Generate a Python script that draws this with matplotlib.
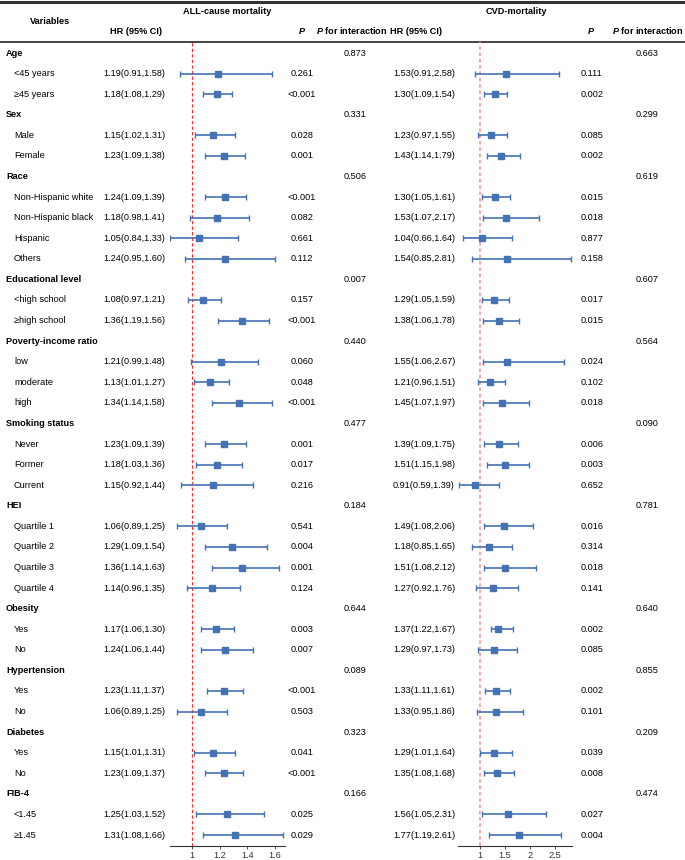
import matplotlib
matplotlib.use("Agg")
import matplotlib.pyplot as plt

plt.rcParams['font.family'] = ['Liberation Sans', 'DejaVu Sans']
plt.rcParams['mathtext.fontset'] = 'custom'
plt.rcParams['mathtext.bfit'] = 'Liberation Sans:bold:italic'
plt.rcParams['mathtext.it'] = 'Liberation Sans:italic'

# data
labels = ['Age', '<45 years', '≥45 years',
          'Sex', 'Male', 'Female',
          'Race', 'Non-Hispanic white', 'Non-Hispanic black', 'Hispanic', 'Others',
          'Educational level', '<high school', '≥high school',
          'Poverty-income ratio', 'low', 'moderate', 'high',
          'Smoking status', 'Never', 'Former', 'Current',
          'HEI', 'Quartile 1', 'Quartile 2', 'Quartile 3', 'Quartile 4',
          'Obesity', 'Yes', 'No',
          'Hypertension', 'Yes', 'No',
          'Diabetes', 'Yes', 'No',
          'FIB-4', '<1.45', '≥1.45']
is_group = [l in ('Age', 'Sex', 'Race', 'Educational level', 'Poverty-income ratio',
                  'Smoking status', 'HEI', 'Obesity', 'Hypertension', 'Diabetes', 'FIB-4')
            for l in labels]

# all-cause mortality (None for group header rows)
all_hr = [None, 1.19, 1.18, None, 1.15, 1.23, None, 1.24, 1.18, 1.05, 1.24, None, 1.08, 1.36,
          None, 1.21, 1.13, 1.34, None, 1.23, 1.18, 1.15, None, 1.06, 1.29, 1.36, 1.14,
          None, 1.17, 1.24, None, 1.23, 1.06, None, 1.15, 1.23, None, 1.25, 1.31]
all_lo = [None, 0.91, 1.08, None, 1.02, 1.09, None, 1.09, 0.98, 0.84, 0.95, None, 0.97, 1.19,
          None, 0.99, 1.01, 1.14, None, 1.09, 1.03, 0.92, None, 0.89, 1.09, 1.14, 0.96,
          None, 1.06, 1.06, None, 1.11, 0.89, None, 1.01, 1.09, None, 1.03, 1.08]
all_hi = [None, 1.58, 1.29, None, 1.31, 1.38, None, 1.39, 1.41, 1.33, 1.60, None, 1.21, 1.56,
          None, 1.48, 1.27, 1.58, None, 1.39, 1.36, 1.44, None, 1.25, 1.54, 1.63, 1.35,
          None, 1.30, 1.44, None, 1.37, 1.25, None, 1.31, 1.37, None, 1.52, 1.66]
all_p = ['', '0.261', '<0.001', '', '0.028', '0.001', '', '<0.001', '0.082', '0.661', '0.112',
         '', '0.157', '<0.001', '', '0.060', '0.048', '<0.001', '', '0.001', '0.017', '0.216',
         '', '0.541', '0.004', '0.001', '0.124', '', '0.003', '0.007', '', '<0.001', '0.503',
         '', '0.041', '<0.001', '', '0.025', '0.029']
all_pint = ['0.873', '', '', '0.331', '', '', '0.506', '', '', '', '', '0.007', '', '',
            '0.440', '', '', '', '0.477', '', '', '', '0.184', '', '', '', '',
            '0.644', '', '', '0.089', '', '', '0.323', '', '', '0.166', '', '']

# CVD mortality
cvd_hr = [None, 1.53, 1.30, None, 1.23, 1.43, None, 1.30, 1.53, 1.04, 1.54, None, 1.29, 1.38,
          None, 1.55, 1.21, 1.45, None, 1.39, 1.51, 0.91, None, 1.49, 1.18, 1.51, 1.27,
          None, 1.37, 1.29, None, 1.33, 1.33, None, 1.29, 1.35, None, 1.56, 1.77]
cvd_lo = [None, 0.91, 1.09, None, 0.97, 1.14, None, 1.05, 1.07, 0.66, 0.85, None, 1.05, 1.06,
          None, 1.06, 0.96, 1.07, None, 1.09, 1.15, 0.59, None, 1.08, 0.85, 1.08, 0.92,
          None, 1.22, 0.97, None, 1.11, 0.95, None, 1.01, 1.08, None, 1.05, 1.19]
cvd_hi = [None, 2.58, 1.54, None, 1.55, 1.79, None, 1.61, 2.17, 1.64, 2.81, None, 1.59, 1.78,
          None, 2.67, 1.51, 1.97, None, 1.75, 1.98, 1.39, None, 2.06, 1.65, 2.12, 1.76,
          None, 1.67, 1.73, None, 1.61, 1.86, None, 1.64, 1.68, None, 2.31, 2.61]
cvd_p = ['', '0.111', '0.002', '', '0.085', '0.002', '', '0.015', '0.018', '0.877', '0.158',
         '', '0.017', '0.015', '', '0.024', '0.102', '0.018', '', '0.006', '0.003', '0.652',
         '', '0.016', '0.314', '0.018', '0.141', '', '0.002', '0.085', '', '0.002', '0.101',
         '', '0.039', '0.008', '', '0.027', '0.004']
cvd_pint = ['0.663', '', '', '0.299', '', '', '0.619', '', '', '', '', '0.607', '', '',
            '0.564', '', '', '', '0.090', '', '', '', '0.781', '', '', '', '',
            '0.640', '', '', '0.855', '', '', '0.209', '', '', '0.474', '', '']

all_ticks = [1, 1.2, 1.4, 1.6]
cvd_ticks = [1, 1.5, 2, 2.5]

W, H = 685, 860
fig = plt.figure(figsize=(W / 100, H / 100), dpi=100)
bg = fig.add_axes([0, 0, 1, 1])
bg.set_xlim(0, W)
bg.set_ylim(H, 0)
bg.axis('off')

fs = 6.6
blue = '#4472b4'
y0, dy = 53, 20.58
ys = [y0 + i * dy for i in range(len(labels))]

# header
bg.plot([0, W], [1.5, 1.5], color='#333333', lw=2.2)
bg.plot([0, W], [42, 42], color='#222222', lw=1.2)
bg.text(50, 21, 'Variables', ha='center', va='center', fontsize=fs, fontweight='bold')
bg.text(227, 11, 'ALL-cause mortality', ha='center', va='center', fontsize=fs, fontweight='bold')
bg.text(516, 11, 'CVD-mortality', ha='center', va='center', fontsize=fs, fontweight='bold')
for x_hr, x_p, x_pi in [(110, 302, 352), (390, 591, 648)]:
    bg.text(x_hr, 31, 'HR (95% CI)', ha='left', va='center', fontsize=fs, fontweight='bold')
    bg.text(x_p, 31, 'P', ha='center', va='center', fontsize=fs, fontweight='bold', style='italic')
    bg.text(x_pi, 31, r'$\bfit{P}$ for interaction', ha='center', va='center',
            fontsize=fs, fontweight='bold')

def fmt(h, lo, hi):
    return '%.2f(%.2f,%.2f)' % (h, lo, hi)

for i, y in enumerate(ys):
    if is_group[i]:
        bg.text(6, y, labels[i], ha='left', va='center', fontsize=fs, fontweight='bold')
    else:
        bg.text(14, y, labels[i], ha='left', va='center', fontsize=fs)
        bg.text(134.5, y, fmt(all_hr[i], all_lo[i], all_hi[i]), ha='center', va='center', fontsize=fs)
        bg.text(424, y, fmt(cvd_hr[i], cvd_lo[i], cvd_hi[i]), ha='center', va='center', fontsize=fs)
    bg.text(302, y, all_p[i], ha='center', va='center', fontsize=fs)
    bg.text(355, y, all_pint[i], ha='center', va='center', fontsize=fs)
    bg.text(592, y, cvd_p[i], ha='center', va='center', fontsize=fs)
    bg.text(647, y, cvd_pint[i], ha='center', va='center', fontsize=fs)

def forest(x_left, x_right, xlim, hr, lo, hi, ticks, ref_color, ref_lw, ref_dash):
    ax = fig.add_axes([x_left / W, (H - 846) / H, (x_right - x_left) / W, (846 - 42) / H])
    ax.set_xlim(*xlim)
    ax.set_ylim(846, 42)
    ax.patch.set_alpha(0)
    for s in ('top', 'right', 'left'):
        ax.spines[s].set_visible(False)
    ax.spines['bottom'].set_color('#333333')
    ax.spines['bottom'].set_linewidth(0.8)
    ax.set_yticks([])
    ax.set_xticks(ticks)
    ax.set_xticklabels([('%g' % t) for t in ticks])
    ax.tick_params(axis='x', labelsize=fs, length=2.5, width=0.6, colors='#333333', pad=0.8)
    ax.axvline(1, color=ref_color, lw=ref_lw, dashes=ref_dash, zorder=1)
    for i, y in enumerate(ys):
        if hr[i] is None:
            continue
        ax.errorbar(hr[i], y, xerr=[[hr[i] - lo[i]], [hi[i] - hr[i]]], fmt='s', color=blue,
                    ms=4.0, elinewidth=1.2, capsize=2.4, capthick=1.0, zorder=3)
    return ax

forest(170, 285, (0.838, 1.674), all_hr, all_lo, all_hi, all_ticks, '#ff2a2a', 0.8, (3, 2))
forest(458, 572, (0.566, 2.834), cvd_hr, cvd_lo, cvd_hi, cvd_ticks, '#f5a3a3', 1.3, (2, 1.5))

fig.savefig('out.png', dpi=100)
